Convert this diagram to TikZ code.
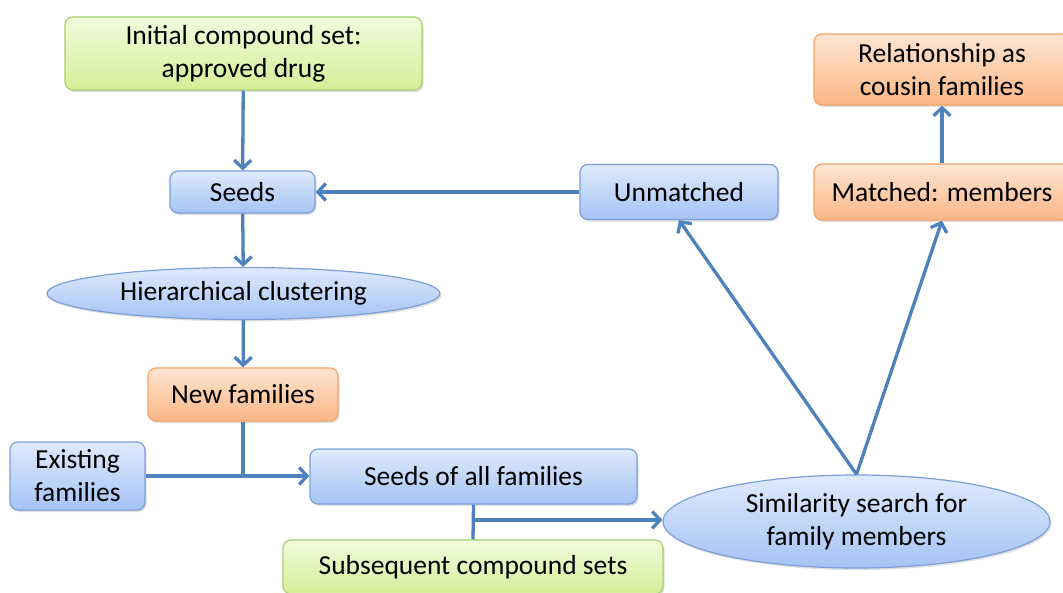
\documentclass[tikz,border=0pt]{standalone}
\usepackage{fontspec}
\setmainfont{Carlito}
\usetikzlibrary{arrows.meta,shapes.geometric,shadows,calc}
\definecolor{arrowblue}{HTML}{4F81BD}
\definecolor{bluetop}{HTML}{DFEAFD}
\definecolor{bluebot}{HTML}{A5C3F4}
\definecolor{blueline}{HTML}{7BA0D8}
\definecolor{orangetop}{HTML}{FEE5D2}
\definecolor{orangebot}{HTML}{FBB785}
\definecolor{orangeline}{HTML}{F2A467}
\definecolor{greentop}{HTML}{F2FBDD}
\definecolor{greenbot}{HTML}{D3EF98}
\definecolor{greenline}{HTML}{A8D06C}
\tikzset{
  base/.style={font=\fontsize{27.5}{33}\selectfont, align=center, inner sep=0pt,
    line width=1.2pt, drop shadow={shadow xshift=1.5pt,shadow yshift=-2pt,opacity=0.25}},
  bluebox/.style={base, rectangle, rounded corners=8pt, draw=blueline, top color=bluetop, bottom color=bluebot},
  orangebox/.style={base, rectangle, rounded corners=8pt, draw=orangeline, top color=orangetop, bottom color=orangebot},
  greenbox/.style={base, rectangle, rounded corners=8pt, draw=greenline, top color=greentop, bottom color=greenbot},
  blueell/.style={base, ellipse, draw=blueline, top color=bluetop, bottom color=bluebot},
  conn/.style={draw=arrowblue, line width=3.3pt},
  arr/.style={conn, -{Straight Barb[length=8pt,width=17pt,line width=3.3pt]}},
}
\begin{document}
\begin{tikzpicture}[x=1pt,y=-1pt]
\clip (0,0) rectangle (1063,592);
\useasboundingbox (0,0) rectangle (1063,592);
\fill[white] (0,0) rectangle (1063,592);

\node[greenbox, minimum width=357pt, minimum height=73pt] (init) at (243.5,53.5) {Initial compound set:\\approved drug};
\node[bluebox, minimum width=145pt, minimum height=42pt] (seeds) at (242.5,192) {Seeds};
\node[blueell, minimum width=393pt, minimum height=52pt] (hier) at (243.5,293.5) {Hierarchical clustering};
\node[orangebox, minimum width=190pt, minimum height=53pt] (newf) at (243,394.5) {New families};
\node[bluebox, minimum width=135pt, minimum height=68pt] (exist) at (77.5,476) {Existing\\families};
\node[bluebox, minimum width=327pt, minimum height=55pt] (seedsall) at (473.5,476.5) {Seeds of all families};
\node[greenbox, minimum width=380pt, minimum height=54pt] (subs) at (473,567) {Subsequent compound sets};
\node[blueell, minimum width=387pt, minimum height=93pt] (sim) at (856.5,521.5) {Similarity search for\\family members};
\node[bluebox, minimum width=198pt, minimum height=55pt] (unm) at (679,192) {Unmatched};
\node[orangebox, minimum width=256pt, minimum height=56pt] (match) at (942,192) {Matched: members};
\node[orangebox, minimum width=256pt, minimum height=71pt] (rel) at (942,69.5) {Relationship as\\cousin families};

\draw[arr] (init) -- (seeds);
\draw[arr] (seeds) -- (hier);
\draw[arr] (hier) -- (newf);
\coordinate (j1) at (newf.south |- exist.east);
\draw[conn] (newf.south) -- (j1);
\draw[arr] (exist.east) -- (seedsall.west |- exist.east);
\draw[conn] (seedsall.south) -- (subs.north);
\coordinate (j2) at ($(seedsall.south)!0.44!(subs.north)$);
\draw[arr] (j2) -- (j2 -| sim.west);
\draw[arr] (sim.north) -- (unm.south);
\draw[arr] (sim.north) -- (match.south);
\draw[arr] (unm.west) -- (seeds.east);
\draw[arr] (match.north) -- (rel.south);
\end{tikzpicture}
\end{document}
